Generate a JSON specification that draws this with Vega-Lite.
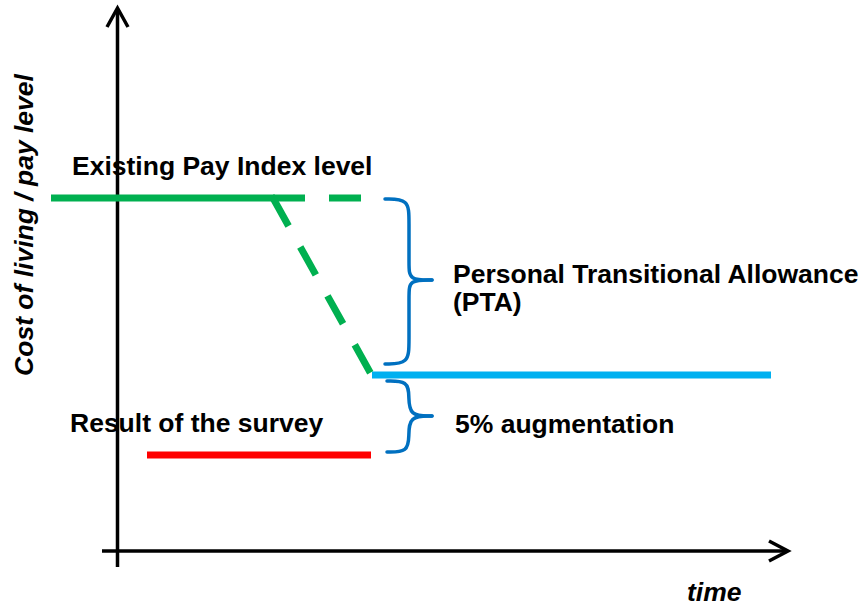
{
  "$schema": "https://vega.github.io/schema/vega-lite/v6.json",
  "width": 863,
  "height": 606,
  "padding": 0,
  "autosize": {"type": "none"},
  "background": "white",
  "config": {"view": {"stroke": null}},
  "datasets": {
    "axes": [
      {"g": "yaxis", "o": 1, "t": 0, "L": -1.6},
      {"g": "yaxis", "o": 2, "t": 0, "L": 54.2},
      {"g": "xaxis", "o": 1, "t": -1.55, "L": 0},
      {"g": "xaxis", "o": 2, "t": 66.95, "L": 0},
      {"g": "yarrow", "o": 1, "t": -1.05, "L": 52.4},
      {"g": "yarrow", "o": 2, "t": 0, "L": 54.3},
      {"g": "yarrow", "o": 3, "t": 1.05, "L": 52.4},
      {"g": "xarrow", "o": 1, "t": 65.15, "L": 1.0},
      {"g": "xarrow", "o": 2, "t": 67.05, "L": 0},
      {"g": "xarrow", "o": 3, "t": 65.15, "L": -1.0}
    ],
    "levels": [
      {"s": "Existing Pay Index", "o": 1, "t": -6.65, "L": 35.3},
      {"s": "Existing Pay Index", "o": 2, "t": 15.75, "L": 35.3},
      {"s": "Survey result", "o": 1, "t": 2.95, "L": 9.6},
      {"s": "Survey result", "o": 2, "t": 25.35, "L": 9.6},
      {"s": "Pay after PTA", "o": 1, "t": 25.45, "L": 17.6},
      {"s": "Pay after PTA", "o": 2, "t": 65.35, "L": 17.6}
    ],
    "dashed": [
      {"g": "hold", "o": 1, "t": 15.55, "L": 35.3},
      {"g": "hold", "o": 2, "t": 24.55, "L": 35.3},
      {"g": "fall", "o": 1, "t": 15.55, "L": 35.3},
      {"g": "fall", "o": 2, "t": 25.35, "L": 17.7}
    ],
    "braces": [
      {"g": "ut", "o": 1, "t": 26.75, "L": 35.2},
      {"g": "ut", "o": 2, "t": 29.15, "L": 35.2},
      {"g": "ut", "o": 3, "t": 29.15, "L": 33.1},
      {"g": "ut", "o": 4, "t": 29.15, "L": 28.5},
      {"g": "ut", "o": 5, "t": 29.15, "L": 27.1},
      {"g": "ut", "o": 6, "t": 31.45, "L": 27.1},
      {"g": "ub", "o": 1, "t": 26.75, "L": 18.7},
      {"g": "ub", "o": 2, "t": 29.15, "L": 18.7},
      {"g": "ub", "o": 3, "t": 29.15, "L": 20.9},
      {"g": "ub", "o": 4, "t": 29.15, "L": 25.7},
      {"g": "ub", "o": 5, "t": 29.15, "L": 27.1},
      {"g": "ub", "o": 6, "t": 31.45, "L": 27.1},
      {"g": "lt", "o": 1, "t": 26.95, "L": 17.0},
      {"g": "lt", "o": 2, "t": 29.05, "L": 17.0},
      {"g": "lt", "o": 3, "t": 29.15, "L": 15.5},
      {"g": "lt", "o": 4, "t": 29.15, "L": 13.5},
      {"g": "lt", "o": 5, "t": 31.45, "L": 13.5},
      {"g": "lb", "o": 1, "t": 26.95, "L": 9.9},
      {"g": "lb", "o": 2, "t": 29.05, "L": 9.9},
      {"g": "lb", "o": 3, "t": 29.15, "L": 11.5},
      {"g": "lb", "o": 4, "t": 29.15, "L": 13.5},
      {"g": "lb", "o": 5, "t": 31.45, "L": 13.5}
    ],
    "labels": [
      {"label": "Existing Pay Index level", "t": -4.55, "L": 37.6},
      {"label": "Personal Transitional Allowance", "t": 33.55, "L": 26.8},
      {"label": "(PTA)", "t": 33.55, "L": 24.0},
      {"label": "5% augmentation", "t": 33.75, "L": 11.8},
      {"label": "Result of the survey", "t": -4.75, "L": 11.9}
    ],
    "xtitle": [{"label": "time", "t": 56.95, "L": -5.0}],
    "ytitle": [{"label": "Cost of living / pay level", "t": -8.45, "L": 32.6}]
  },
  "layer": [
    {
      "data": {"name": "axes"},
      "mark": {"type": "line", "color": "black", "strokeWidth": 3.5, "strokeJoin": "miter"},
      "encoding": {
        "x": {"field": "t", "type": "quantitative", "scale": {"domain": [-11.75, 74.55], "nice": false, "zero": false}, "axis": null},
        "y": {"field": "L", "type": "quantitative", "scale": {"domain": [-5.5, 55.1], "nice": false, "zero": false}, "axis": null},
        "detail": {"field": "g"},
        "order": {"field": "o"}
      }
    },
    {
      "data": {"name": "levels"},
      "mark": {"type": "line", "strokeWidth": 7, "strokeCap": "butt"},
      "encoding": {
        "x": {"field": "t", "type": "quantitative"},
        "y": {"field": "L", "type": "quantitative"},
        "color": {"field": "s", "type": "nominal", "scale": {"domain": ["Existing Pay Index", "Pay after PTA", "Survey result"], "range": ["#00B050", "#00B0F0", "#FF0000"]}, "legend": null},
        "order": {"field": "o"}
      }
    },
    {
      "data": {"name": "dashed"},
      "mark": {"type": "line", "color": "#00B050", "strokeWidth": 7, "strokeDash": [32, 24], "strokeCap": "butt"},
      "encoding": {
        "x": {"field": "t", "type": "quantitative"},
        "y": {"field": "L", "type": "quantitative"},
        "detail": {"field": "g"},
        "order": {"field": "o"}
      }
    },
    {
      "data": {"name": "braces"},
      "mark": {"type": "line", "color": "#0070C0", "strokeWidth": 3.5, "interpolate": "basis", "strokeCap": "round"},
      "encoding": {
        "x": {"field": "t", "type": "quantitative"},
        "y": {"field": "L", "type": "quantitative"},
        "detail": {"field": "g"},
        "order": {"field": "o"}
      }
    },
    {
      "data": {"name": "labels"},
      "mark": {"type": "text", "align": "left", "baseline": "alphabetic", "font": "Liberation Sans", "fontWeight": "bold", "fontSize": 26.5, "color": "black"},
      "encoding": {
        "x": {"field": "t", "type": "quantitative"},
        "y": {"field": "L", "type": "quantitative"},
        "text": {"field": "label"}
      }
    },
    {
      "data": {"name": "xtitle"},
      "mark": {"type": "text", "align": "left", "baseline": "alphabetic", "font": "Liberation Sans", "fontWeight": "bold", "fontStyle": "italic", "fontSize": 26.5, "color": "black"},
      "encoding": {
        "x": {"field": "t", "type": "quantitative"},
        "y": {"field": "L", "type": "quantitative"},
        "text": {"field": "label"}
      }
    },
    {
      "data": {"name": "ytitle"},
      "mark": {"type": "text", "align": "center", "baseline": "alphabetic", "angle": 270, "font": "Liberation Sans", "fontWeight": "bold", "fontStyle": "italic", "fontSize": 26.5, "color": "black"},
      "encoding": {
        "x": {"field": "t", "type": "quantitative"},
        "y": {"field": "L", "type": "quantitative"},
        "text": {"field": "label"}
      }
    }
  ]
}
